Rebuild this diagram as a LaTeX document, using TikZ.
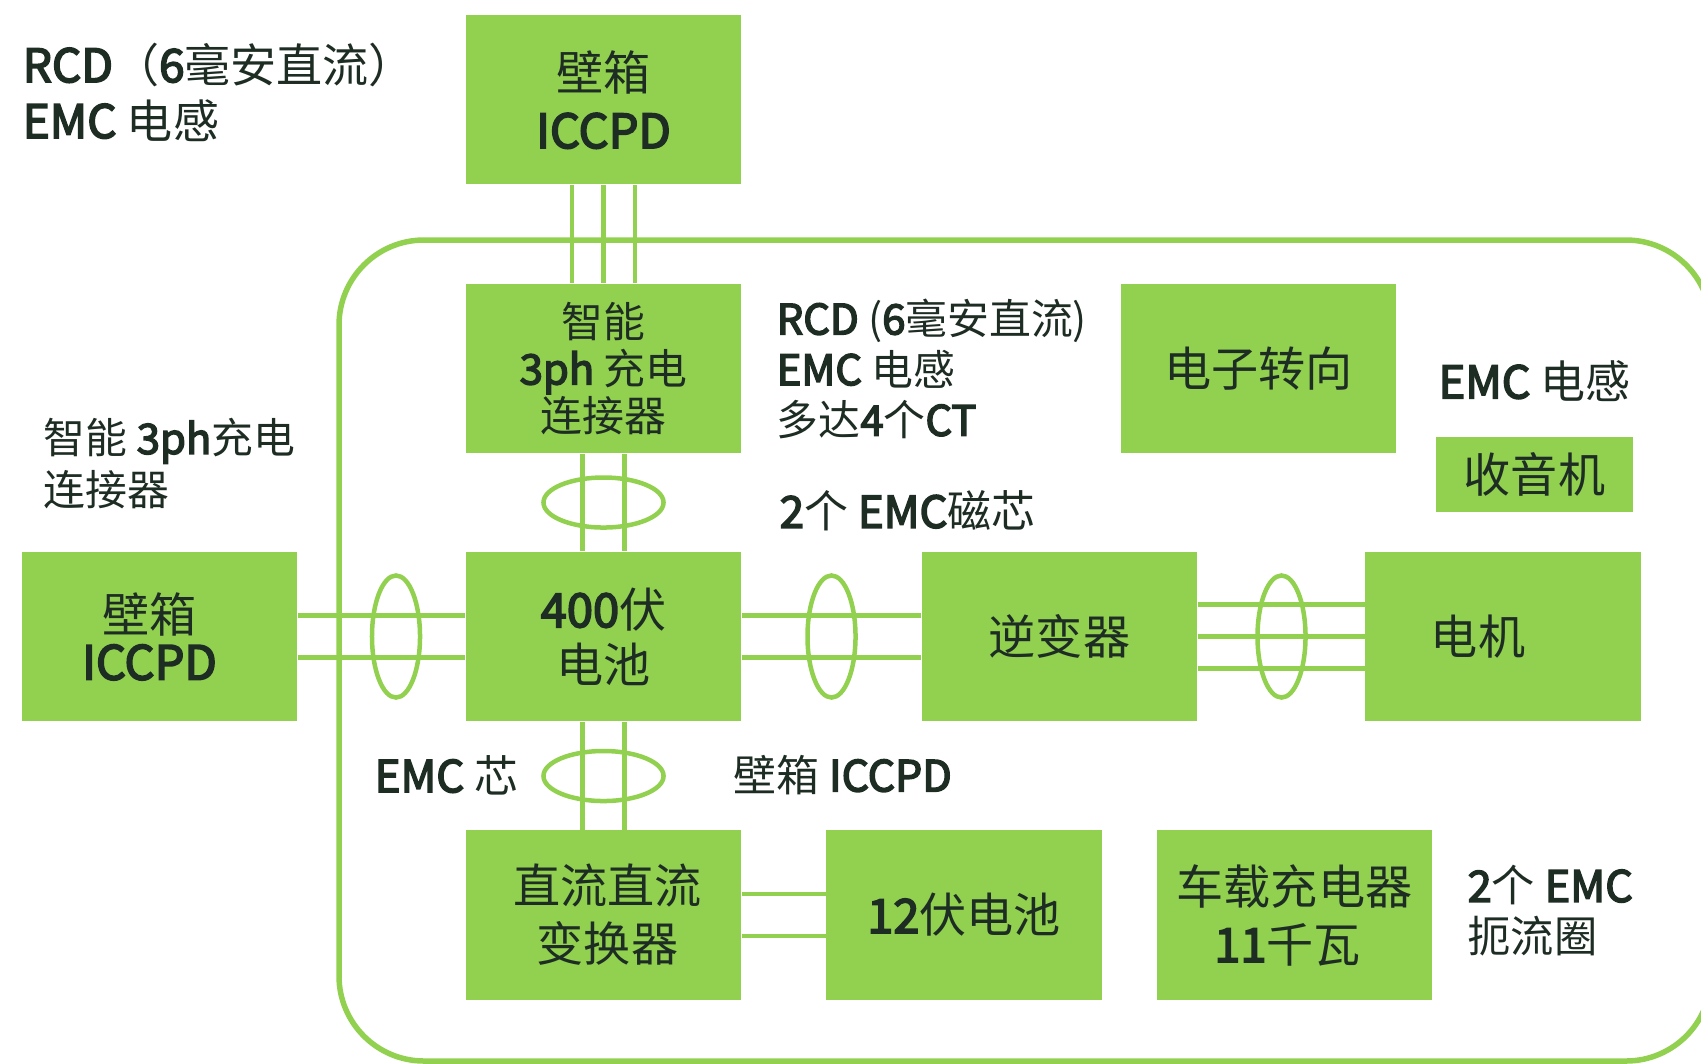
\documentclass[tikz,border=0pt]{standalone}
\usepackage{fontspec}
\setmainfont{Noto Sans CJK SC}
\newfontfamily\latmed{Noto Sans CJK SC}[FakeBold=3.5]
\usetikzlibrary{shapes.geometric}
\definecolor{gfill}{HTML}{92D050}
\definecolor{gline}{HTML}{92D050}
\definecolor{ink}{HTML}{1E2D24}
\newcommand\lt[1]{{\latmed #1}}
\begin{document}
\begin{tikzpicture}[x=0.01cm,y=-0.01cm,
  box/.style={fill=gfill, draw=none, minimum width=2.75cm, minimum height=1.69cm, inner sep=0pt, text=ink, align=center, font=\fontsize{13.4}{16.5}\selectfont},
  wire/.style={draw=gline, line width=0.045cm},
  ring/.style={ellipse, draw=gline, line width=0.045cm, inner sep=0pt},
  hring/.style={ring, minimum width=1.2cm, minimum height=0.5cm},
  vring/.style={ring, minimum width=0.48cm, minimum height=1.22cm},
  note/.style={anchor=west, inner sep=0pt, text=ink, align=left},
]
\useasboundingbox (0,0) rectangle (1701,1063);
% vehicle outline
\draw[gline, line width=0.055cm, rounded corners=0.85cm] (339,240) rectangle (1711,1061);

% boxes
\node[box] (wbtop) at (603.5,99.5) {壁箱\\\lt{ICCPD}};
\node[box, font=\fontsize{11.9}{13.4}\selectfont] (smart) at (603.5,368.5) {智能\\\lt{3ph} 充电\\连接器};
\node[box] (steer) at (1258.5,368.5) {电子转向};
\node[box, minimum width=1.97cm, minimum height=0.75cm] (radio) at (1534.5,474.5) {收音机};
\node[box, font=\fontsize{13.4}{15.6}\selectfont] (hv) at (603.5,636.5) {\lt{400}伏\\电池};
\node[box, font=\fontsize{13.4}{13.4}\selectfont] (wbleft) at (159.5,636.5) {\hspace*{-0.2cm}壁箱\\\hspace*{-0.2cm}\lt{ICCPD}};
\node[box] (inv) at (1059.5,636.5) {逆变器};
\node[box] (motor) at (1503,636.5) {\hspace*{-0.25cm}电机\hspace*{0.25cm}};
\node[box] (dcdc) at (603.5,915) {\hspace*{0.08cm}直流直流\\\hspace*{0.08cm}变换器};
\node[box] (lv) at (964,915) {\lt{12}伏电池};
\node[box] (obc) at (1294.5,915) {车载充电器\\\hspace*{-0.14cm}\lt{11}千瓦};

% wires
\foreach \d in {-31.5,0,31.5}
  \draw[wire] ([xshift=\d*0.01cm]wbtop.south) -- ([xshift=\d*0.01cm]smart.north);
\foreach \d in {-21,21} {
  \draw[wire] ([xshift=\d*0.01cm]smart.south) -- ([xshift=\d*0.01cm]hv.north);
  \draw[wire] ([xshift=\d*0.01cm]hv.south) -- ([xshift=\d*0.01cm]dcdc.north);
  \draw[wire] ([yshift=\d*0.01cm]wbleft.east) -- ([yshift=\d*0.01cm]hv.west);
  \draw[wire] ([yshift=\d*0.01cm]hv.east) -- ([yshift=\d*0.01cm]inv.west);
  \draw[wire] ([yshift=\d*0.01cm]dcdc.east) -- ([yshift=\d*0.01cm]lv.west);
}
\foreach \d in {-32,0,32}
  \draw[wire] ([yshift=\d*0.01cm]inv.east) -- ([yshift=\d*0.01cm]motor.west);

% EMC cores
\node[hring] (c1) at (603.5,502.5) {};
\node[hring] (c2) at (603.5,776) {};
\node[vring] (c3) at (396,636.5) {};
\node[vring] (c4) at (831.5,636.5) {};
\node[vring] (c5) at (1281.5,636.5) {};

% notes
\node[note, font=\fontsize{13.1}{15.9}\selectfont] (n1) at (22,92) {\lt{RCD}（\lt{6}毫安直流）\\\lt{EMC} 电感};
\node[note, font=\fontsize{11.9}{14.8}\selectfont] (n2) at (43,464) {智能 \lt{3ph}充电\\连接器};
\node[note, font=\fontsize{11.9}{14.4}\selectfont] (n3) at (776,369) {\lt{RCD} (\lt{6}毫安直流)\\\lt{EMC} 电感\\多达\lt{4}个\lt{CT}};
\node[note, font=\fontsize{12.5}{14.5}\selectfont] (n4) at (779,511) {\lt{2}个 \lt{EMC}磁芯};
\node[note, font=\fontsize{12.8}{14.5}\selectfont] (n5) at (1438,381) {\lt{EMC} 电感};
\node[note, font=\fontsize{12.5}{14.5}\selectfont] (n6) at (374,775) {\lt{EMC} 芯};
\node[note, font=\fontsize{12.2}{14.5}\selectfont] (n7) at (733,775) {壁箱 \lt{ICCPD}};
\node[note, font=\fontsize{12.3}{14.5}\selectfont] (n8) at (1467,911) {\lt{2}个 \lt{EMC}\\扼流圈};
\end{tikzpicture}
\end{document}
